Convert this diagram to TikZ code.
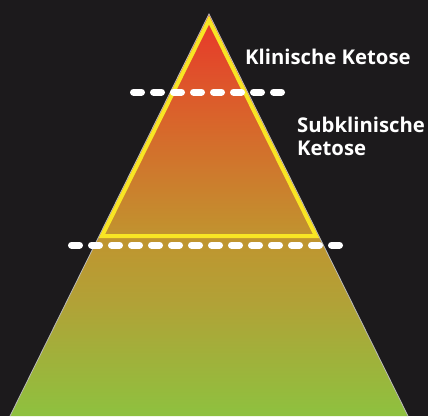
\documentclass[tikz,border=0pt]{standalone}
\usepackage{fontspec}
\setmainfont{Open Sans}
\usepackage{tikz}
\usetikzlibrary{positioning}
\definecolor{bg}{HTML}{1C1A1C}
\definecolor{ketyellow}{HTML}{F8E524}
\definecolor{pyrtop}{HTML}{E8362A}
\definecolor{pyrorange}{HTML}{D9642B}
\definecolor{pyrmid}{HTML}{C0952F}
\definecolor{pyrolive}{HTML}{B1A237}
\definecolor{pyrbot}{HTML}{8EC13F}
\pgfdeclareverticalshading{pyramid}{100bp}{color(0bp)=(pyrbot); color(25bp)=(pyrbot); color(39bp)=(pyrolive); color(47bp)=(pyrmid); color(62bp)=(pyrorange); color(75bp)=(pyrtop); color(100bp)=(pyrtop)}

\begin{document}
\begin{tikzpicture}[
  x=1pt,y=-1pt,
  lbl/.style={text=white,font=\bfseries\fontsize{20.3}{23}\selectfont,inner sep=0pt,align=left},
  cut/.style={draw=white,line width=7pt,line cap=round,dash pattern=on 8pt off 12pt},
  rim/.style={draw=gray!55,line width=0.8pt}
]
\path[use as bounding box,fill=bg] (0,0) rectangle (428,416);

% outer pyramid
\coordinate (apex)  at (209,14);
\coordinate (left)  at (10,416);
\coordinate (right) at (408,416);
\shade[shading=pyramid] (apex) -- (left) -- (right) -- cycle;
\draw[rim] (left) -- (apex) -- (right);

% ketosis zone
\coordinate (kapex)  at (209,20);
\coordinate (kleft)  at (102,236);
\coordinate (kright) at (316,236);
\draw[ketyellow,line width=4pt,line join=miter] (kapex) -- (kleft) -- (kright) -- cycle;

% dashed borders
\coordinate (c1a) at (133.5,92);
\coordinate (c1b) at (281.5,92);
\coordinate (c2a) at (71.5,245);
\coordinate (c2b) at (339.5,245);
\draw[cut] (c1a) -- (c1b);
\draw[cut] (c2a) -- (c2b);

% labels
\node[lbl,anchor=base west] (klin) at (245,64) {Klinische Ketose};
\node[lbl,anchor=base west] (subk) at (297,155) {Subklinische\\Ketose};
\end{tikzpicture}
\end{document}
